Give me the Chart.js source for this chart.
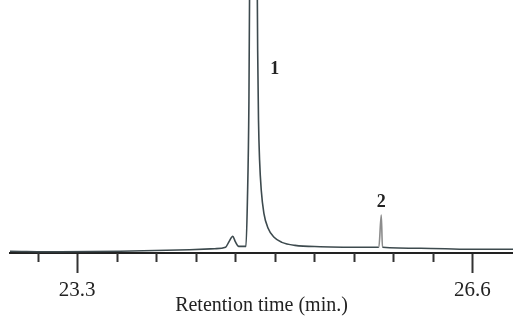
<!DOCTYPE html>
<html>
<head>
<meta charset="utf-8">
<script src="https://cdn.jsdelivr.net/npm/chart.js@4.4.1/dist/chart.umd.min.js"></script>
<style>
  html, body { margin: 0; padding: 0; background: #fff; }
  #wrap { width: 513px; height: 316px; }
</style>
</head>
<body>
<div id="wrap"><canvas id="chromChart"></canvas></div>
<script>
// --- data ---
const retentionTimes = [22.74, 23.16, 23.66, 24.24, 24.45, 24.54, 24.57, 24.60, 24.62, 24.65,
    24.71, 24.722, 24.735, 24.745, 24.775, 24.80, 24.808, 24.815, 24.824, 24.838,
    24.86, 24.895, 24.945, 25.01, 25.12, 25.33, 25.79, 25.82, 25.84, 25.85,
    26.17, 26.58, 26.94];
const signal = [0.7, 0.5, 0.7, 1.3, 1.7, 2.3, 4.6, 6.6, 4.6, 2.6,
    2.6, 20, 60, 140, 300, 140, 80, 52.5, 36.7, 24.8,
    15.7, 9.8, 6.2, 4.2, 3.0, 2.5, 2.3, 2.3, 15, 2.3,
    1.9, 1.5, 1.5];

const tickValues = [22.97, 23.3, 23.63, 23.96, 24.29, 24.62, 24.95, 25.28, 25.61, 25.94, 26.27, 26.6];
const tickLabels = ['', '23.3', '', '', '', '', '', '', '', '', '', '26.6'];

const peakNames = ['1', '2'];
const peakLabelX = [24.95, 25.84];
const peakLabelY = [72.7, 20];

const serif = "'Liberation Serif', 'DejaVu Serif', serif";

// short minor ticks + peak numbers
const extrasPlugin = {
    id: 'extras',
    afterDraw(chart) {
        const ctx = chart.ctx;
        const x = chart.scales.x, y = chart.scales.y;
        const bottom = chart.chartArea.bottom;
        ctx.save();
        ctx.strokeStyle = '#333';
        ctx.lineWidth = 2;
        tickValues.forEach((v, i) => {
            if (tickLabels[i] !== '') return;
            const px = Math.round(x.getPixelForValue(v)) + 0.5;
            ctx.beginPath();
            ctx.moveTo(px, bottom);
            ctx.lineTo(px, bottom + 9);
            ctx.stroke();
        });
        ctx.fillStyle = '#222';
        ctx.font = 'bold 18px ' + serif;
        ctx.textAlign = 'center';
        ctx.textBaseline = 'middle';
        peakNames.forEach((name, i) => {
            ctx.fillText(name, x.getPixelForValue(peakLabelX[i]), y.getPixelForValue(peakLabelY[i]));
        });
        ctx.restore();
    }
};

const ctx = document.getElementById('chromChart').getContext('2d');
new Chart(ctx, {
    type: 'line',
    data: {
        datasets: [{
            data: retentionTimes.map((t, i) => ({ x: t, y: signal[i] })),
            borderColor: '#3d4a4e',
            borderWidth: 1.6,
            pointRadius: 0,
            cubicInterpolationMode: 'monotone',
            segment: {
                borderColor: c => (c.p0.parsed.x >= 25.8 && c.p1.parsed.x <= 25.86) ? '#8c8c8c' : undefined
            }
        }]
    },
    options: {
        responsive: true,
        maintainAspectRatio: false,
        animation: false,
        layout: { padding: { left: 10, right: 0, top: 0, bottom: 0 } },
        plugins: {
            legend: { display: false },
            tooltip: { enabled: false }
        },
        scales: {
            x: {
                type: 'linear',
                min: 22.74,
                max: 26.94,
                afterBuildTicks: scale => { scale.ticks = tickValues.map(v => ({ value: v })); },
                afterFit: scale => { scale.height = 63; },
                border: { display: true, color: '#222', width: 2 },
                grid: {
                    drawOnChartArea: false,
                    drawTicks: true,
                    tickLength: 20,
                    tickWidth: 2,
                    tickColor: c => (tickLabels[c.index] ? '#333' : 'rgba(0,0,0,0)')
                },
                ticks: {
                    autoSkip: false,
                    maxRotation: 0,
                    padding: 5,
                    color: '#222',
                    font: { family: serif, size: 21 },
                    callback: (value, index) => tickLabels[index]
                },
                title: {
                    display: true,
                    text: 'Retention time (min.)',
                    color: '#222',
                    font: { family: serif, size: 20, lineHeight: 1.0 },
                    padding: { top: 0, bottom: 0 }
                }
            },
            y: {
                display: false,
                min: 0,
                max: 100
            }
        }
    },
    plugins: [extrasPlugin]
});
</script>
</body>
</html>
